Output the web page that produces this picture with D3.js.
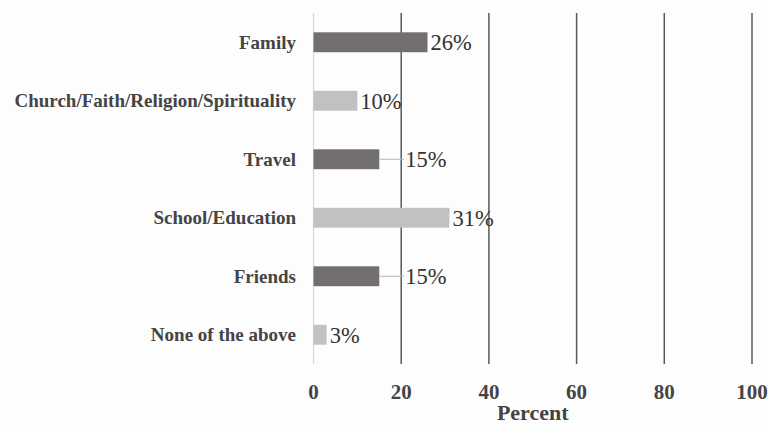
<!DOCTYPE html>
<html>
<head>
<meta charset="utf-8">
<script src="https://cdn.jsdelivr.net/npm/d3@7"></script>
<style>
  html, body { margin: 0; padding: 0; background: #fdfdfd; }
  svg { display: block; }
</style>
</head>
<body>
<svg id="chart" width="768" height="425"></svg>
<script>
// Survey responses: share of respondents per category (percent)
const categories = ["Family", "Church/Faith/Religion/Spirituality", "Travel", "School/Education", "Friends", "None of the above"];
const values = [26, 10, 15, 31, 15, 3];
const barShades = ["dark", "light", "dark", "light", "dark", "light"];
const xTicks = [0, 20, 40, 60, 80, 100];
// Labels that sit past the nearest gridline with a connector line
const calloutCategories = ["Travel", "Friends"];

const W = 768, H = 425;
const margin = { top: 13, right: 16, bottom: 61, left: 313.5 };
const svg = d3.select("#chart");
svg.append("rect").attr("width", W).attr("height", H).attr("fill", "#fdfdfd");

const x = d3.scaleLinear().domain([0, 100]).range([margin.left, W - margin.right]);
const y = d3.scaleBand().domain(categories).range([margin.top, H - margin.bottom]).paddingInner(0.66).paddingOuter(0.33);

const fill = { dark: "#736e6f", light: "#c1c1c1" };
const serif = "'Liberation Serif', 'Times New Roman', serif";

// Vertical gridlines
svg.append("g").selectAll("line").data(xTicks).join("line")
  .attr("x1", d => x(d)).attr("x2", d => x(d))
  .attr("y1", margin.top).attr("y2", H - margin.bottom)
  .attr("stroke", d => d === 0 ? "#d8d8d8" : "#595959")
  .attr("stroke-width", d => d === 0 ? 1.2 : 1.5);

// Bars
const rows = categories.map((c, i) => ({ c, v: values[i], shade: barShades[i] }));
svg.append("g").selectAll("rect").data(rows).join("rect")
  .attr("x", x(0))
  .attr("y", d => y(d.c))
  .attr("width", d => x(d.v) - x(0))
  .attr("height", y.bandwidth())
  .attr("fill", d => fill[d.shade]);

// Value labels
const labelX = d => {
  if (calloutCategories.includes(d.c)) {
    const next = xTicks.find(t => t > d.v);
    return x(next) + 4;
  }
  return x(d.v) + 3;
};
svg.append("g").selectAll("line").data(rows.filter(d => calloutCategories.includes(d.c))).join("line")
  .attr("x1", d => x(d.v)).attr("x2", d => labelX(d) - 1)
  .attr("y1", d => y(d.c) + y.bandwidth() / 2).attr("y2", d => y(d.c) + y.bandwidth() / 2)
  .attr("stroke", "#b5b5b5").attr("stroke-width", 1);

svg.append("g").selectAll("text").data(rows).join("text")
  .attr("x", labelX)
  .attr("y", d => y(d.c) + y.bandwidth() / 2)
  .attr("dy", "0.36em")
  .attr("font-family", serif)
  .attr("font-size", 22.5)
  .attr("fill", "#333")
  .text(d => d.v + "%");

// Category axis labels
svg.append("g").selectAll("text").data(categories).join("text")
  .attr("x", 296)
  .attr("y", d => y(d) + y.bandwidth() / 2)
  .attr("dy", "0.35em")
  .attr("text-anchor", "end")
  .attr("font-family", serif)
  .attr("font-weight", "bold")
  .attr("font-size", 19)
  .attr("fill", "#444")
  .text(d => d);

// X tick labels
svg.append("g").selectAll("text").data(xTicks).join("text")
  .attr("x", d => x(d))
  .attr("y", 399)
  .attr("text-anchor", "middle")
  .attr("font-family", serif)
  .attr("font-weight", "bold")
  .attr("font-size", 21)
  .attr("fill", "#444")
  .text(d => d);

// X axis title
svg.append("text")
  .attr("x", (x(0) + x(100)) / 2)
  .attr("y", 420)
  .attr("text-anchor", "middle")
  .attr("font-family", serif)
  .attr("font-weight", "bold")
  .attr("font-size", 22)
  .attr("fill", "#444")
  .text("Percent");
</script>
</body>
</html>
